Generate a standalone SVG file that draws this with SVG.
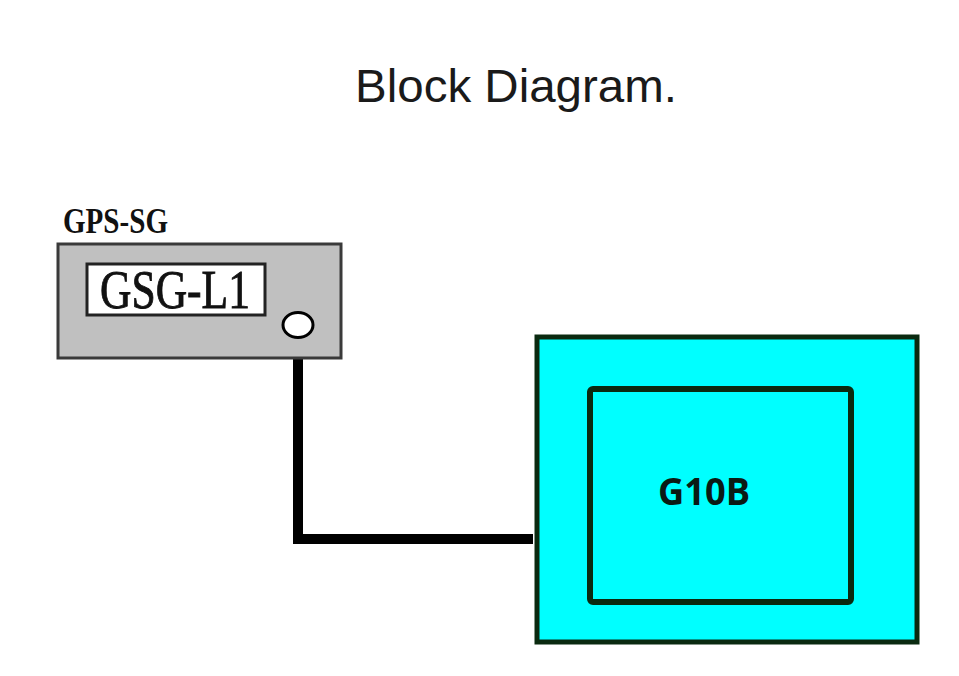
<svg xmlns="http://www.w3.org/2000/svg" width="959" height="676" viewBox="0 0 959 676">
<style>
.title{font-family:"Liberation Sans",Arial,sans-serif;font-size:47px;fill:#1a1a1a}
.serif{font-family:"Liberation Serif","Times New Roman",serif;fill:#111}
.g10b{font-family:"Open Sans","Noto Sans",sans-serif;font-weight:bold;font-size:37px;fill:#0a1a14}
.frame{fill:#00ffff;stroke:#0a2a10}
</style>
<rect width="959" height="676" fill="#ffffff"/>
<text class="title" x="355" y="102" textLength="322" lengthAdjust="spacingAndGlyphs">Block Diagram.</text>
<g id="connectors">
<path d="M298,335 V539 H533" fill="none" stroke="#000" stroke-width="10" stroke-linejoin="miter"/>
</g>
<g id="gps-sg">
<text class="serif" x="63" y="233" font-size="36" font-weight="bold" textLength="105" lengthAdjust="spacingAndGlyphs">GPS-SG</text>
<rect x="58" y="244" width="283" height="114" fill="#c0c0c0" stroke="#3a3a3a" stroke-width="3"/>
<rect x="87" y="264" width="178" height="51" fill="#ffffff" stroke="#222" stroke-width="3"/>
<text class="serif" x="100" y="308" font-size="55" stroke="#111" stroke-width="0.9" textLength="150" lengthAdjust="spacingAndGlyphs">GSG-L1</text>
<ellipse cx="298" cy="325" rx="15" ry="12.5" fill="#ffffff" stroke="#000" stroke-width="3"/>
</g>
<g id="g10b">
<rect class="frame" x="537" y="337" width="380" height="305" stroke-width="5"/>
<rect class="frame" x="590" y="389" width="261" height="213" rx="3" stroke-width="6"/>
<text class="g10b" x="658" y="505" textLength="92" lengthAdjust="spacingAndGlyphs">G10B</text>
</g>
</svg>
